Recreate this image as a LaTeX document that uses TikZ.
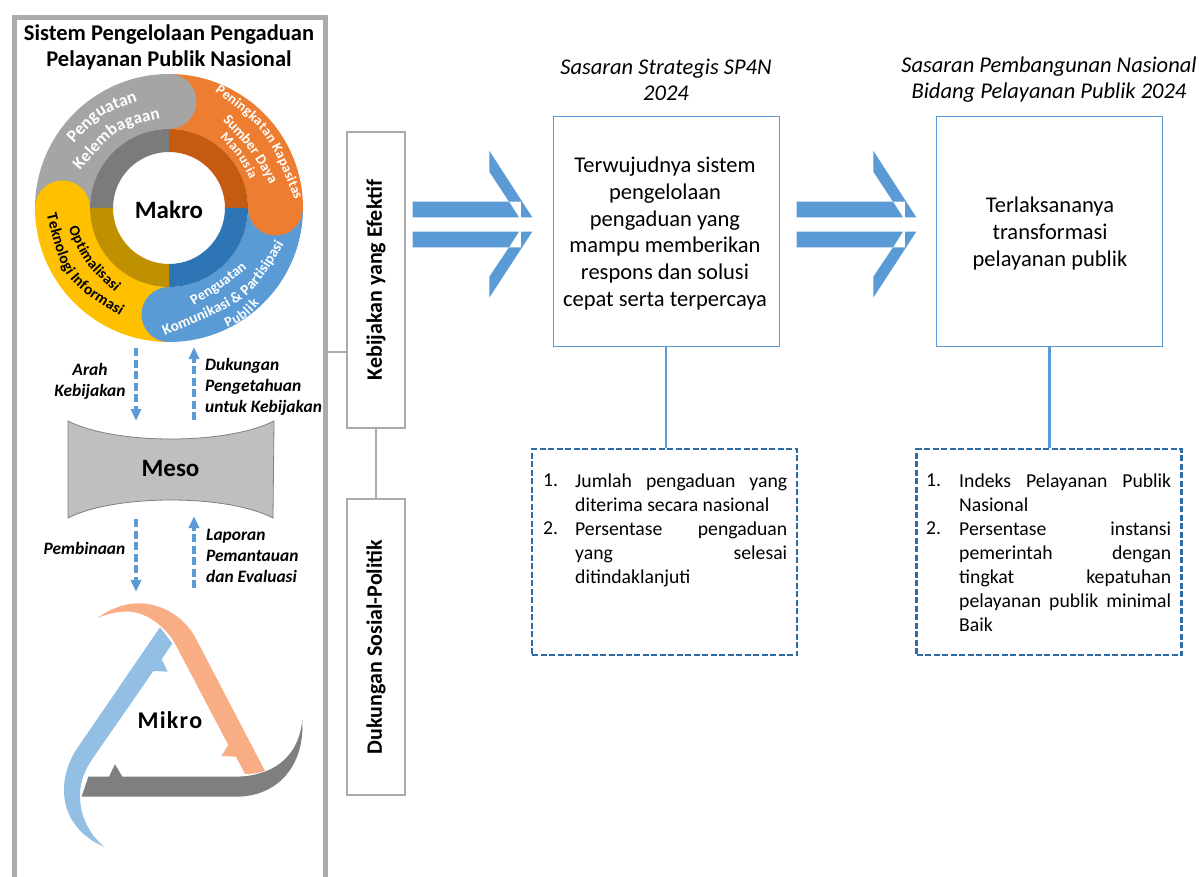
\documentclass[tikz,border=0pt]{standalone}
\usepackage{fontspec}
\setmainfont{Carlito}
\usetikzlibrary{decorations.text,arrows.meta,calc}
\definecolor{frameg}{HTML}{AEAAAA}
\definecolor{bl}{HTML}{5B9BD5}
\definecolor{dbl}{HTML}{2E6CA4}
\definecolor{ringg}{HTML}{A5A5A5}\definecolor{ringgd}{HTML}{7B7B7B}
\definecolor{ringo}{HTML}{ED7D31}\definecolor{ringod}{HTML}{C55A11}
\definecolor{ringb}{HTML}{5B9BD5}\definecolor{ringbd}{HTML}{2E75B6}
\definecolor{ringy}{HTML}{FFC000}\definecolor{ringyd}{HTML}{BF9000}
\definecolor{mikroo}{HTML}{F8AD85}\definecolor{mikrob}{HTML}{92BFE3}\definecolor{mikrog}{HTML}{7F7F7F}
\newcommand{\fs}[1]{\fontsize{#1}{#1}\selectfont}
\newcommand{\sect}[5]{\fill[#1] (-#2:#4) arc[start angle=-#2,end angle=-#3,radius=#4] -- (-#3:#5) arc[start angle=-#3,end angle=-#2,radius=#5] -- cycle;}
\newcommand{\curvetext}[6]{\path[decorate,decoration={text along path,text color=#5,text align={fit to path},text={|\fs{#6}\bfseries|#4}}] #1 .. controls #2 .. #3;}
\newcommand{\jl}[1]{\makebox[212pt][s]{#1}\\}
\tikzset{
 x=1pt,y=-1pt,
 framebox/.style={draw=frameg,line width=2.5pt,fill=white,minimum width=58pt},
 vtext/.style={rotate=90,font=\fs{22}\bfseries},
 target/.style={draw=bl,line width=1pt,minimum width=226pt,minimum height=229pt,align=center,inner sep=0pt},
 listbox/.style={draw=dbl,line width=2.2pt,dash pattern=on 6pt off 2.5pt,minimum width=265pt,minimum height=206pt},
 link/.style={bl,line width=2.6pt},
 gline/.style={frameg,line width=2.2pt},
 flow/.style={bl,line width=3.2pt,dash pattern=on 8pt off 3.5pt},
 lab/.style={font=\fs{17.4}\bfseries\itshape,align=left,inner sep=0pt},
 ital/.style={font=\fs{22.5}\itshape,align=center,inner sep=0pt},
 listt/.style={font=\fs{19.7},align=left,inner sep=0pt,anchor=north west},
 bigt/.style={font=\fs{25}\bfseries,inner sep=0pt},
}
\begin{document}
\begin{tikzpicture}
\clip (0,0) rectangle (1199,877);
\fill[white] (0,0) rectangle (1199,877);
% outer frame
\draw[frameg,line width=5pt] (14.5,890) -- (14.5,17.5) -- (325.5,17.5) -- (325.5,890);
\node[font=\fs{22.5}\bfseries,align=center,inner sep=0pt] (title) at (169,47) {Sistem Pengelolaan Pengaduan\\[3.5pt]Pelayanan Publik Nasional};
% right-side frame boxes
\node[framebox,minimum height=296pt] (kb) at (376,280) {};
\node[framebox,minimum height=296pt] (ds) at (376,647) {};
\coordinate (fr) at (327,352);
\draw[gline] (fr) -- (fr -| kb.west);
\draw[gline] (kb.south) -- (ds.north);
\node[vtext] at (kb) {Kebijakan yang Efektif};
\node[vtext] at (ds) {Dukungan Sosial-Politik};
% ring
\begin{scope}[shift={(169,208)}]
\sect{ringg}{90}{180}{134}{79}
\sect{ringo}{0}{90}{134}{79}
\sect{ringb}{270}{360}{134}{79}
\sect{ringy}{180}{270}{134}{79}
\fill[ringg] (0,-106.5) circle[radius=27.5];
\fill[ringo] (106.5,0) circle[radius=27.5];
\fill[ringb] (0,106.5) circle[radius=27.5];
\fill[ringy] (-106.5,0) circle[radius=27.5];
\sect{ringgd}{90}{180}{79}{56}
\sect{ringod}{0}{90}{79}{56}
\sect{ringbd}{270}{360}{79}{56}
\sect{ringyd}{180}{270}{79}{56}
\end{scope}
\begin{scope}[yshift=-60pt,x=0.3333pt,y=-0.3333pt]
\curvetext{(222,250)}{(301,164)}{(410,125)}{Penguatan}{white}{17.5}
\curvetext{(240,332)}{(353,203)}{(482,174)}{Kelembagaan}{white}{17}
\curvetext{(645,95)}{(798,208)}{(885,420)}{Peningkatan Kapasitas}{white}{14}
\curvetext{(668,182)}{(751,270)}{(810,372)}{Sumber Daya}{white}{14.5}
\curvetext{(660,232)}{(718,294)}{(750,360)}{Manusia}{white}{13.5}
\curvetext{(582,738)}{(666,686)}{(742,625)}{Penguatan}{white}{14.5}
\curvetext{(495,828)}{(749,722)}{(852,552)}{Komunikasi {\&} Partisipasi}{white}{15}
\curvetext{(682,804)}{(737,777)}{(778,732)}{Publik}{white}{14}
\curvetext{(205,505)}{(252,610)}{(345,697)}{Optimalisasi}{black}{15}
\curvetext{(140,465)}{(190,661)}{(360,768)}{Teknologi Informasi}{black}{15.5}
\end{scope}
\node[bigt] (makro) at (169,210) {Makro};
% dashed flows
\coordinate (a1) at (136,348); \coordinate (a2) at (136,410);
\coordinate (b1) at (194,420); \coordinate (b2) at (194,358);
\coordinate (c1) at (136,519); \coordinate (c2) at (136,581);
\coordinate (d1) at (194,588); \coordinate (d2) at (194,527);
\draw[flow] (a1) -- (a2); \fill[bl] (130.5,409) -- (141.5,409) -- (136,420.5) -- cycle;
\draw[flow] (b1) -- (b2); \fill[bl] (188.5,359) -- (199.5,359) -- (194,347.5) -- cycle;
\draw[flow] (c1) -- (c2); \fill[bl] (130.5,580) -- (141.5,580) -- (136,591.5) -- cycle;
\draw[flow] (d1) -- (d2); \fill[bl] (188.5,528) -- (199.5,528) -- (194,516.5) -- cycle;
\node[lab,align=center] (l1) at (90,381) {Arah\\[3.6pt]Kebijakan};
\node[lab,anchor=west] (l2) at (205,386.5) {Dukungan\\[3.6pt]Pengetahuan\\[3.6pt]untuk Kebijakan};
\node[lab,anchor=west] (l3) at (206,556) {Laporan\\[3.6pt]Pemantauan\\[3.6pt]dan Evaluasi};
\node[lab] (l4) at (84.5,548) {Pembinaan};
% Meso
\draw[fill=black!25,draw=black!50,line width=0.8pt] (68,421) .. controls (115,445) and (227,445) .. (274,421) -- (273,518) .. controls (227,494) and (115,494) .. (68,518) -- cycle;
\node[bigt] (meso) at (170.5,468) {Meso};
% Mikro
\begin{scope}[yshift=-590pt,x=0.3333pt,y=-0.3333pt]
\fill[mikroo] (292,84) .. controls (340,50) and (385,38) .. (425,40) .. controls (500,45) and (560,90) .. (590,150) -- (795,543) .. controls (775,550) and (755,552) .. (735,552) -- (708,500) -- (665,498) -- (685,465) -- (530,170) .. controls (500,110) and (440,68) .. (390,65) .. controls (355,63) and (320,72) .. (292,84) -- cycle;
\fill[mikrob] (480,112) -- (517,160) -- (485,208) -- (503,245) -- (460,243) -- (275,510) .. controls (245,555) and (240,590) .. (240,620) .. controls (240,680) and (270,735) .. (312,770) .. controls (240,740) and (192,680) .. (192,600) .. controls (192,550) and (210,505) .. (235,470) -- cycle;
\fill[mikrog] (265,560) -- (327,560) -- (345,523) -- (367,560) -- (710,560) .. controls (810,558) and (895,510) .. (907,390) .. controls (915,530) and (830,620) .. (710,620) -- (245,620) -- cycle;
\end{scope}
\node[bigt,font=\fs{24}\bfseries,inner sep=0pt] (mikro) at (170,720) {M\kern1.2pt i\kern1.2pt k\kern1.2pt r\kern1.2pt o};
% wide arrows
\foreach \dx/\nm in {0/p,384/q}{
\begin{scope}[xshift=\dx pt]
\fill[bl] (412.7,201.7) -- (509,201.7) -- (519,217.3) -- (412.7,217.3) -- cycle;
\fill[bl] (489.3,150.7) -- (532.3,217.3) -- (521,217.3) -- (521,201.7) -- (509,201.7) -- (489.3,171.7) -- cycle;
\fill[bl] (412.7,231.7) -- (519,231.7) -- (509,247.3) -- (412.7,247.3) -- cycle;
\fill[bl] (489.3,297.7) -- (532.3,231.7) -- (521,231.7) -- (521,247.3) -- (509,247.3) -- (489.3,276.7) -- cycle;
\end{scope}}
% targets
\node[target] (t1) at (666,231.5) {};
\node[target] (t2) at (1049.5,231.5) {};
\node[align=center,font=\fs{22.5},inner sep=0pt] (t1t) at (665,233.5) {Terwujudnya sistem\\[4.3pt]pengelolaan\\[4.3pt]pengaduan yang\\[4.3pt]mampu memberikan\\[4.3pt]respons dan solusi\\[4.3pt]cepat serta terpercaya};
\node[align=center,font=\fs{22.5},inner sep=0pt] (t2t) at (1050,233.5) {Terlaksananya\\[4.3pt]transformasi\\[4.3pt]pelayanan publik};
\node[ital] (h1) at (666,80) {Sasaran Strategis SP4N\\[3.5pt]2024};
\node[ital] (h2) at (1049,80) {Sasaran Pembangunan Nasional\\[3.5pt]Bidang Pelayanan Publik 2024};
% lists
\node[listbox] (li1) at (664.5,552) {};
\node[listbox] (li2) at (1049,552) {};
\draw[link] (t1.south) -- (t1.south |- li1.north);
\draw[link] (t2.south) -- (t2.south |- li2.north);
\node[listt] (n1) at (543,474) {1.};
\node[listt] (n2) at (543,522) {2.};
\node[listt] (i1) at (575,474) {\jl{Jumlah pengaduan yang}[4.3pt]diterima secara nasional};
\node[listt] (i2) at (575,522) {\jl{Persentase pengaduan}[4.3pt]\jl{yang selesai}[4.3pt]ditindaklanjuti};
\node[listt] (n3) at (926,474) {1.};
\node[listt] (n4) at (926,522) {2.};
\node[listt] (j1) at (959,474) {\jl{Indeks Pelayanan Publik}[4.3pt]Nasional};
\node[listt] (j2) at (959,522) {\jl{Persentase instansi}[4.3pt]\jl{pemerintah dengan}[4.3pt]\jl{tingkat kepatuhan}[4.3pt]\jl{pelayanan publik minimal}[4.3pt]Baik};
\end{tikzpicture}
\end{document}
